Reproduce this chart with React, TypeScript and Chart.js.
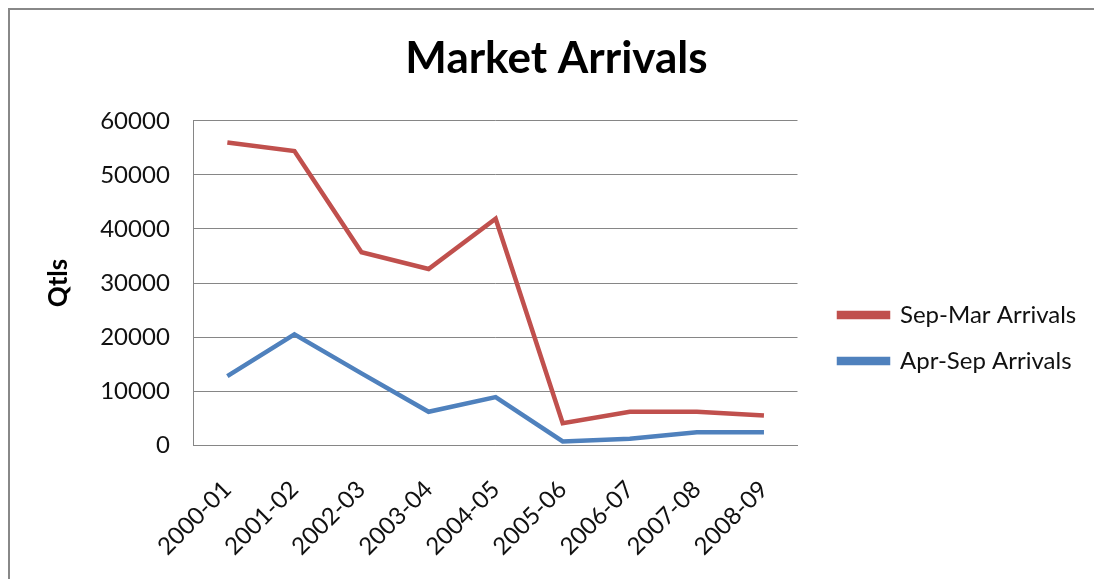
import React, { useEffect, useRef } from "react";
import { Chart, registerables } from "chart.js";

Chart.register(...registerables);

const categories = ["2000-01", "2001-02", "2002-03", "2003-04", "2004-05", "2005-06", "2006-07", "2007-08", "2008-09"];
const sepMarArrivals = [56000, 54400, 35700, 32600, 41900, 4100, 6200, 6200, 5500];
const aprSepArrivals = [12800, 20500, 13300, 6200, 8900, 700, 1200, 2400, 2400];
const yTicks = [0, 10000, 20000, 30000, 40000, 50000, 60000];

const RED = "#C0504D";
const BLUE = "#4F81BD";
const GRID = "#868686";
const FONT = "Lato, 'Open Sans', sans-serif";

// positions the right-hand legend block and centres the title over the frame (canvas px)
const blockPlacer = {
  id: "blockPlacer",
  beforeDraw(chart: any) {
    const lg = chart.legend;
    if (lg) {
      const h = lg.height;
      lg.left = 807;
      lg.right = 1100;
      const cy = 328;
      lg.top = cy - h / 2;
      lg.bottom = cy + h / 2;
    }
    const tb = chart.titleBlock;
    if (tb) {
      tb.left = 0;
      tb.right = 1093;
    }
  },
};

export default function App() {
  const ref = useRef<HTMLCanvasElement | null>(null);

  useEffect(() => {
    document.body.style.overflow = "hidden";
    if (!ref.current) return;
    const chart = new Chart(ref.current, {
      type: "line",
      data: {
        labels: categories,
        datasets: [
          {
            label: "Sep-Mar Arrivals",
            data: sepMarArrivals,
            borderColor: RED,
            backgroundColor: RED,
            borderWidth: 4.5,
            pointRadius: 0,
            tension: 0,
          },
          {
            label: "Apr-Sep Arrivals",
            data: aprSepArrivals,
            borderColor: BLUE,
            backgroundColor: BLUE,
            borderWidth: 4.5,
            pointRadius: 0,
            tension: 0,
          },
        ],
      },
      plugins: [blockPlacer],
      options: {
        animation: false,
        responsive: false,
        layout: { padding: { left: 15, right: 55, top: 0, bottom: 0 } },
        plugins: {
          title: {
            display: true,
            text: "Market Arrivals",
            color: "#000",
            font: { family: FONT, size: 44, weight: "bold" },
            padding: { top: 22.5, bottom: 35.5 },
          },
          legend: {
            position: "right",
            labels: {
              color: "#111",
              font: { family: FONT, size: 24 },
              boxWidth: 49,
              boxHeight: 4,
              padding: 22,
            },
          },
          tooltip: { enabled: false },
        },
        scales: {
          x: {
            offset: true,
            grid: { display: false, drawTicks: false },
            border: { display: true, color: GRID, width: 1 },
            ticks: {
              color: "#111",
              font: { family: FONT, size: 24 },
              minRotation: 45,
              maxRotation: 45,
              padding: 30,
            },
          },
          y: {
            min: 0,
            max: 60000,
            afterBuildTicks: (axis: any) => {
              axis.ticks = yTicks.map((v) => ({ value: v }));
            },
            grid: { color: GRID, lineWidth: 1, drawTicks: false },
            border: { display: true, color: GRID, width: 1 },
            ticks: {
              color: "#111",
              font: { family: FONT, size: 24 },
              padding: 24,
              callback: (v: any) => String(v),
            },
            title: {
              display: true,
              text: "Qtls",
              color: "#000",
              font: { family: FONT, size: 26, weight: "bold" },
              padding: { top: 18, bottom: 2 },
            },
          },
        },
      },
    });
    return () => chart.destroy();
  }, []);

  return (
    <div
      style={{
        position: "fixed",
        left: 8,
        top: 8,
        width: 1102,
        height: 600,
        borderLeft: "2px solid #888",
        borderTop: "2px solid #888",
        background: "#fff",
        overflow: "hidden",
      }}
    >
      <canvas ref={ref} width={1100} height={581} style={{ display: "block" }} />
    </div>
  );
}
